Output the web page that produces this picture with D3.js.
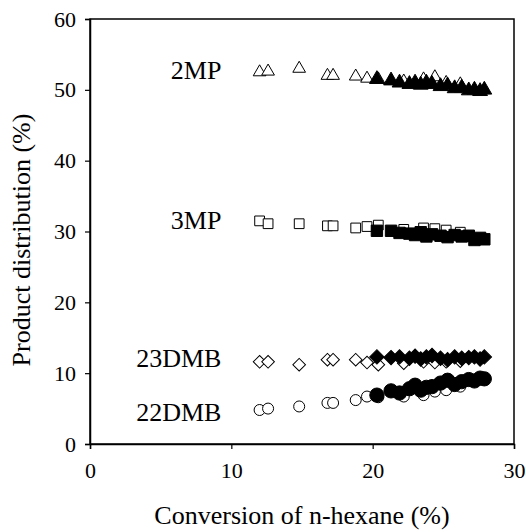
<!DOCTYPE html>
<html lang="en">
  <head>
    <meta charset="UTF-8" />
    <title>Product distribution</title>
    <script src="https://d3js.org/d3.v7.min.js"></script>
    <style>
      body { margin: 0; background: #fff; }
      text { font-family: "Liberation Serif", "Times New Roman", serif; fill: #000; }
    </style>
  </head>
  <body>
    <script>
      // conversion values (%) for the two runs
      const xOpen = [12.0, 12.6, 14.8, 16.8, 17.2, 18.8, 19.6, 20.4, 22.2, 23.6, 24.4, 25.2, 26.2];
      const xFilled = [20.3, 21.3, 21.9, 22.6, 23.0, 23.4, 23.8, 24.2, 24.8, 25.3, 25.8, 26.3, 26.8, 27.2, 27.6, 27.9];

      // product distribution (%)
      const mp2Open = [52.5, 52.6, 53.0, 52.0, 52.0, 51.9, 51.6, 51.5, 51.2, 51.5, 51.8, 51.0, 50.8];
      const mp2Filled = [51.5, 51.3, 51.0, 50.8, 51.0, 50.7, 51.0, 50.8, 50.5, 50.6, 50.2, 50.3, 49.9, 50.0, 49.8, 50.0];
      const mp3Open = [31.5, 31.1, 31.1, 30.8, 30.8, 30.5, 30.7, 30.9, 30.3, 30.5, 30.4, 30.2, 29.9];
      const mp3Filled = [30.1, 30.1, 29.8, 29.7, 29.5, 29.9, 29.3, 29.6, 29.4, 29.2, 29.5, 29.3, 29.4, 28.8, 29.1, 28.9];
      const dmb23Open = [11.6, 11.6, 11.2, 11.9, 11.9, 11.9, 11.5, 11.2, 11.4, 11.6, 11.5, 11.6, 11.7];
      const dmb23Filled = [12.3, 12.2, 12.3, 12.1, 12.4, 12.0, 12.3, 12.5, 12.1, 11.9, 12.3, 12.1, 12.2, 12.3, 12.0, 12.3];
      const dmb22Open = [4.8, 5.0, 5.3, 5.8, 5.8, 6.2, 6.7, 6.6, 6.7, 6.9, 7.4, 7.6, 8.1];
      const dmb22Filled = [6.9, 7.5, 7.2, 7.8, 8.3, 7.6, 8.0, 8.1, 8.6, 9.0, 8.4, 8.8, 9.1, 8.9, 9.3, 9.2];

      const xTicks = [0, 10, 20, 30];
      const yTicks = [0, 10, 20, 30, 40, 50, 60];

      const labels = ["2MP", "3MP", "23DMB", "22DMB"];
      const labelX = [9.3, 9.3, 9.3, 9.3];
      const labelY = [51.6, 30.3, 10.9, 3.25];

      const width = 526, height = 532;
      const margin = {top: 19, right: 12, bottom: 88, left: 90};
      const serif = "'Liberation Serif', 'Times New Roman', serif";

      const svg = d3.select("body").append("svg")
        .attr("width", width)
        .attr("height", height);

      const x = d3.scaleLinear().domain([0, 30]).range([margin.left, width - margin.right]);
      const y = d3.scaleLinear().domain([0, 60]).range([height - margin.bottom, margin.top]);

      // frame
      svg.append("rect")
        .attr("x", x(0)).attr("y", y(60))
        .attr("width", x(30) - x(0)).attr("height", y(0) - y(60))
        .attr("fill", "none").attr("stroke", "#000").attr("stroke-width", 1.5);

      const xAxis = svg.append("g")
        .attr("transform", `translate(0,${y(0)})`)
        .call(d3.axisBottom(x).tickValues(xTicks).tickSize(5).tickPadding(13));
      const yAxis = svg.append("g")
        .attr("transform", `translate(${x(0)},0)`)
        .call(d3.axisLeft(y).tickValues(yTicks).tickSize(5).tickPadding(9));

      [xAxis, yAxis].forEach(function (g) {
        g.attr("font-family", serif).attr("font-size", 22);
        g.select(".domain").attr("stroke-width", 1.5);
        g.selectAll(".tick line").attr("stroke-width", 1.2);
        g.selectAll(".tick text").style("font-size", "22px");
      });

      svg.append("text")
        .attr("x", 302)
        .attr("y", 524)
        .attr("text-anchor", "middle")
        .style("font-size", "26px")
        .text("Conversion of n-hexane (%)");

      svg.append("text")
        .attr("transform", `translate(30,240) rotate(-90)`)
        .attr("text-anchor", "middle")
        .style("font-size", "26px")
        .text("Product distribution (%)");

      // series label
      labels.forEach(function (t, i) {
        svg.append("text")
          .attr("x", x(labelX[i]))
          .attr("y", y(labelY[i]))
          .attr("text-anchor", "end")
          .style("font-size", "26px")
          .text(t);
      });

      function pts(xs, ys) {
        return xs.map(function (d, i) { return [d, ys[i]]; });
      }

      const series = [
        {open: pts(xOpen, mp2Open), filled: pts(xFilled, mp2Filled), type: d3.symbolTriangle, size: [70, 95], rot: 0},
        {open: pts(xOpen, mp3Open), filled: pts(xFilled, mp3Filled), type: d3.symbolSquare, size: [95, 130], rot: 0},
        {open: pts(xOpen, dmb23Open), filled: pts(xFilled, dmb23Filled), type: d3.symbolSquare, size: [80, 105], rot: 45},
        {open: pts(xOpen, dmb22Open), filled: pts(xFilled, dmb22Filled), type: d3.symbolCircle, size: [95, 160], rot: 0}
      ];

      series.forEach(function (s) {
        [["open", "#fff"], ["filled", "#000"]].forEach(function (k, j) {
          const sym = d3.symbol().type(s.type).size(s.size[j]);
          svg.append("g").selectAll("path")
            .data(s[k[0]])
            .enter().append("path")
            .attr("transform", function (d) { return `translate(${x(d[0])},${y(d[1])}) rotate(${s.rot})`; })
            .attr("d", sym)
            .attr("fill", k[1])
            .attr("stroke", "#000")
            .attr("stroke-width", 1);
        });
      });
    </script>
  </body>
</html>
